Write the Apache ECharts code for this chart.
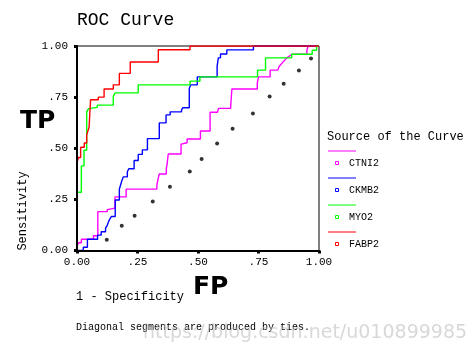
<!DOCTYPE html>
<html>
<head>
<meta charset="utf-8">
<script src="https://cdn.jsdelivr.net/npm/echarts@6/dist/echarts.min.js"></script>
<style>html,body{margin:0;padding:0;background:#fff}#c{width:475px;height:352px}</style>
</head>
<body>
<div id="c"></div>
<script>
const tickValues = [0, 0.25, 0.5, 0.75, 1];
const tickLabels = ['0.00', '.25', '.50', '.75', '1.00'];
const seriesNames = ['CTNI2', 'CKMB2', 'MYO2', 'FABP2'];

const ctni2 = [[0,0],[0,0.022],[0.007,0.022],[0.007,0.038],[0.018,0.038],[0.018,0.055],[0.068,0.055],[0.068,0.072],[0.086,0.072],[0.086,0.19],[0.125,0.19],[0.125,0.2],[0.13,0.2],[0.13,0.207],[0.157,0.207],[0.157,0.262],[0.203,0.262],[0.203,0.3],[0.33,0.3],[0.33,0.32],[0.335,0.32],[0.335,0.35],[0.34,0.35],[0.34,0.374],[0.369,0.374],[0.369,0.4],[0.372,0.4],[0.372,0.42],[0.377,0.42],[0.377,0.472],[0.43,0.472],[0.43,0.52],[0.437,0.52],[0.437,0.527],[0.455,0.527],[0.455,0.545],[0.51,0.545],[0.51,0.584],[0.55,0.584],[0.55,0.676],[0.58,0.676],[0.58,0.685],[0.585,0.685],[0.585,0.695],[0.635,0.695],[0.635,0.705],[0.64,0.705],[0.64,0.79],[0.745,0.79],[0.745,0.82],[0.75,0.82],[0.75,0.849],[0.798,0.849],[0.798,0.882],[0.83,0.882],[0.835,0.9],[0.85,0.92],[0.87,0.945],[0.89,0.96],[0.95,0.96],[0.95,0.98],[0.955,0.98],[0.955,1],[1,1]];

const ckmb2 = [[0,0],[0.026,0],[0.026,0.016],[0.043,0.016],[0.043,0.055],[0.085,0.055],[0.085,0.075],[0.1,0.075],[0.1,0.092],[0.118,0.092],[0.118,0.11],[0.124,0.12],[0.13,0.14],[0.136,0.155],[0.142,0.166],[0.158,0.166],[0.158,0.247],[0.175,0.247],[0.175,0.3],[0.18,0.3],[0.18,0.32],[0.185,0.32],[0.185,0.34],[0.191,0.34],[0.191,0.36],[0.208,0.36],[0.208,0.385],[0.214,0.385],[0.214,0.4],[0.236,0.4],[0.236,0.44],[0.253,0.44],[0.253,0.47],[0.27,0.47],[0.27,0.492],[0.291,0.492],[0.291,0.547],[0.34,0.547],[0.34,0.624],[0.368,0.624],[0.368,0.663],[0.385,0.663],[0.385,0.678],[0.432,0.678],[0.432,0.688],[0.437,0.688],[0.437,0.698],[0.464,0.698],[0.464,0.792],[0.47,0.792],[0.47,0.81],[0.497,0.81],[0.497,0.849],[0.579,0.849],[0.579,0.9],[0.584,0.9],[0.584,0.942],[0.593,0.942],[0.593,0.961],[0.619,0.961],[0.619,0.981],[0.729,0.981],[0.729,1],[1,1]];

const myo2 = [[0,0],[0,0.285],[0.018,0.285],[0.018,0.414],[0.029,0.414],[0.029,0.49],[0.04,0.49],[0.04,0.678],[0.048,0.678],[0.048,0.694],[0.055,0.694],[0.055,0.7],[0.084,0.7],[0.084,0.711],[0.15,0.711],[0.15,0.755],[0.158,0.755],[0.158,0.771],[0.253,0.771],[0.253,0.81],[0.467,0.81],[0.467,0.828],[0.508,0.828],[0.508,0.849],[0.746,0.849],[0.746,0.882],[0.779,0.882],[0.779,0.942],[0.887,0.942],[0.887,0.96],[0.972,0.96],[0.972,0.979],[0.99,0.979],[0.99,1],[1,1]];

const fabp2 = [[0,0],[0,0.43],[0.006,0.43],[0.006,0.455],[0.015,0.455],[0.015,0.505],[0.03,0.505],[0.03,0.526],[0.04,0.526],[0.04,0.564],[0.045,0.564],[0.045,0.584],[0.05,0.584],[0.05,0.603],[0.056,0.603],[0.056,0.737],[0.088,0.737],[0.088,0.75],[0.112,0.75],[0.112,0.79],[0.15,0.79],[0.15,0.81],[0.175,0.81],[0.175,0.866],[0.22,0.866],[0.22,0.922],[0.336,0.922],[0.336,0.982],[0.467,0.982],[0.467,1],[1,1]];

const referenceDots = [[0.123,0.053],[0.185,0.121],[0.238,0.17],[0.313,0.239],[0.384,0.312],[0.466,0.386],[0.515,0.448],[0.579,0.523],[0.643,0.595],[0.727,0.67],[0.796,0.753],[0.854,0.815],[0.917,0.88],[0.967,0.939]];

const colors = ['#ff00ff', '#0000ff', '#00ff00', '#ff0000'];
const curves = [ctni2, ckmb2, myo2, fabp2];

const MONO = '"Liberation Mono", "DejaVu Sans Mono", monospace';
const chart = echarts.init(document.getElementById('c'), null, {renderer: 'canvas'});

function fmt(v) {
  const i = tickValues.findIndex(t => Math.abs(t - v) < 1e-9);
  return i >= 0 ? tickLabels[i] : '';
}

const axisCommon = {
  type: 'value', min: 0, max: 1, interval: 0.25, z: 10,
  axisLine: {show: true, lineStyle: {color: '#000', width: 2}},
  axisTick: {show: true, length: 3, lineStyle: {color: '#000', width: 3}},
  splitLine: {show: false},
  axisLabel: {formatter: fmt, color: '#000', fontFamily: MONO, fontSize: 11}
};

const legendGraphics = [];
seriesNames.forEach((n, i) => {
  const y0 = 151 + i * 27;
  legendGraphics.push({type: 'line', shape: {x1: 328, y1: y0, x2: 356, y2: y0}, style: {stroke: colors[i], lineWidth: 1}});
  legendGraphics.push({type: 'rect', shape: {x: 335.5, y: y0 + 10.5, width: 3, height: 3}, style: {stroke: colors[i], fill: 'none', lineWidth: 1}});
  legendGraphics.push({type: 'text', x: 349, y: y0 + 12, style: {text: n, fill: '#000', font: '10px ' + MONO, textVerticalAlign: 'middle'}});
});

chart.setOption({
  animation: false,
  backgroundColor: '#fff',
  grid: {left: 77, top: 46, width: 242, height: 204.5, show: true, borderColor: '#000', borderWidth: 1, backgroundColor: 'transparent'},
  xAxis: Object.assign({}, axisCommon, {axisLabel: Object.assign({}, axisCommon.axisLabel, {margin: 6})}),
  yAxis: Object.assign({}, axisCommon, {axisLabel: Object.assign({}, axisCommon.axisLabel, {margin: 9})}),
  series: curves.map((d, i) => ({
    name: seriesNames[i], type: 'line', data: d, showSymbol: false, symbol: 'none',
    lineStyle: {color: colors[i], width: 1.4}, z: 2 + i
  })).concat([{
    type: 'scatter', data: referenceDots, symbol: 'circle', symbolSize: 4,
    itemStyle: {color: '#000'}, z: 8
  }]),
  graphic: [
    {type: 'text', x: 77, y: 20, style: {text: 'ROC Curve', fill: '#000', font: '18px ' + MONO, textVerticalAlign: 'middle'}},
    {type: 'text', x: 23, y: 211, rotation: Math.PI / 2, style: {text: 'Sensitivity', fill: '#000', font: '12px ' + MONO, textAlign: 'center', textVerticalAlign: 'middle'}},
    {type: 'text', x: 20, y: 121, style: {text: 'TP', fill: '#000', font: 'bold 25px "DejaVu Sans", sans-serif', textVerticalAlign: 'middle'}},
    {type: 'text', x: 76, y: 297, style: {text: '1 - Specificity', fill: '#000', font: '12px ' + MONO, textVerticalAlign: 'middle'}},
    {type: 'text', x: 193, y: 287, style: {text: 'FP', fill: '#000', font: 'bold 25px "DejaVu Sans", sans-serif', textVerticalAlign: 'middle'}},
    {type: 'text', x: 76, y: 327, style: {text: 'Diagonal segments are produced by ties.', fill: '#000', font: '10px ' + MONO, textVerticalAlign: 'middle'}},
    {type: 'text', x: 327, y: 137, style: {text: 'Source of the Curve', fill: '#000', font: '12px ' + MONO, textVerticalAlign: 'middle'}},
    {type: 'text', x: 143, y: 333, z: 100, style: {text: 'https://blog.csdn.net/u010899985', fill: 'rgba(190,190,190,0.6)', font: '19px "DejaVu Sans", sans-serif', textVerticalAlign: 'middle'}}
  ].concat(legendGraphics)
});
</script>
</body>
</html>
